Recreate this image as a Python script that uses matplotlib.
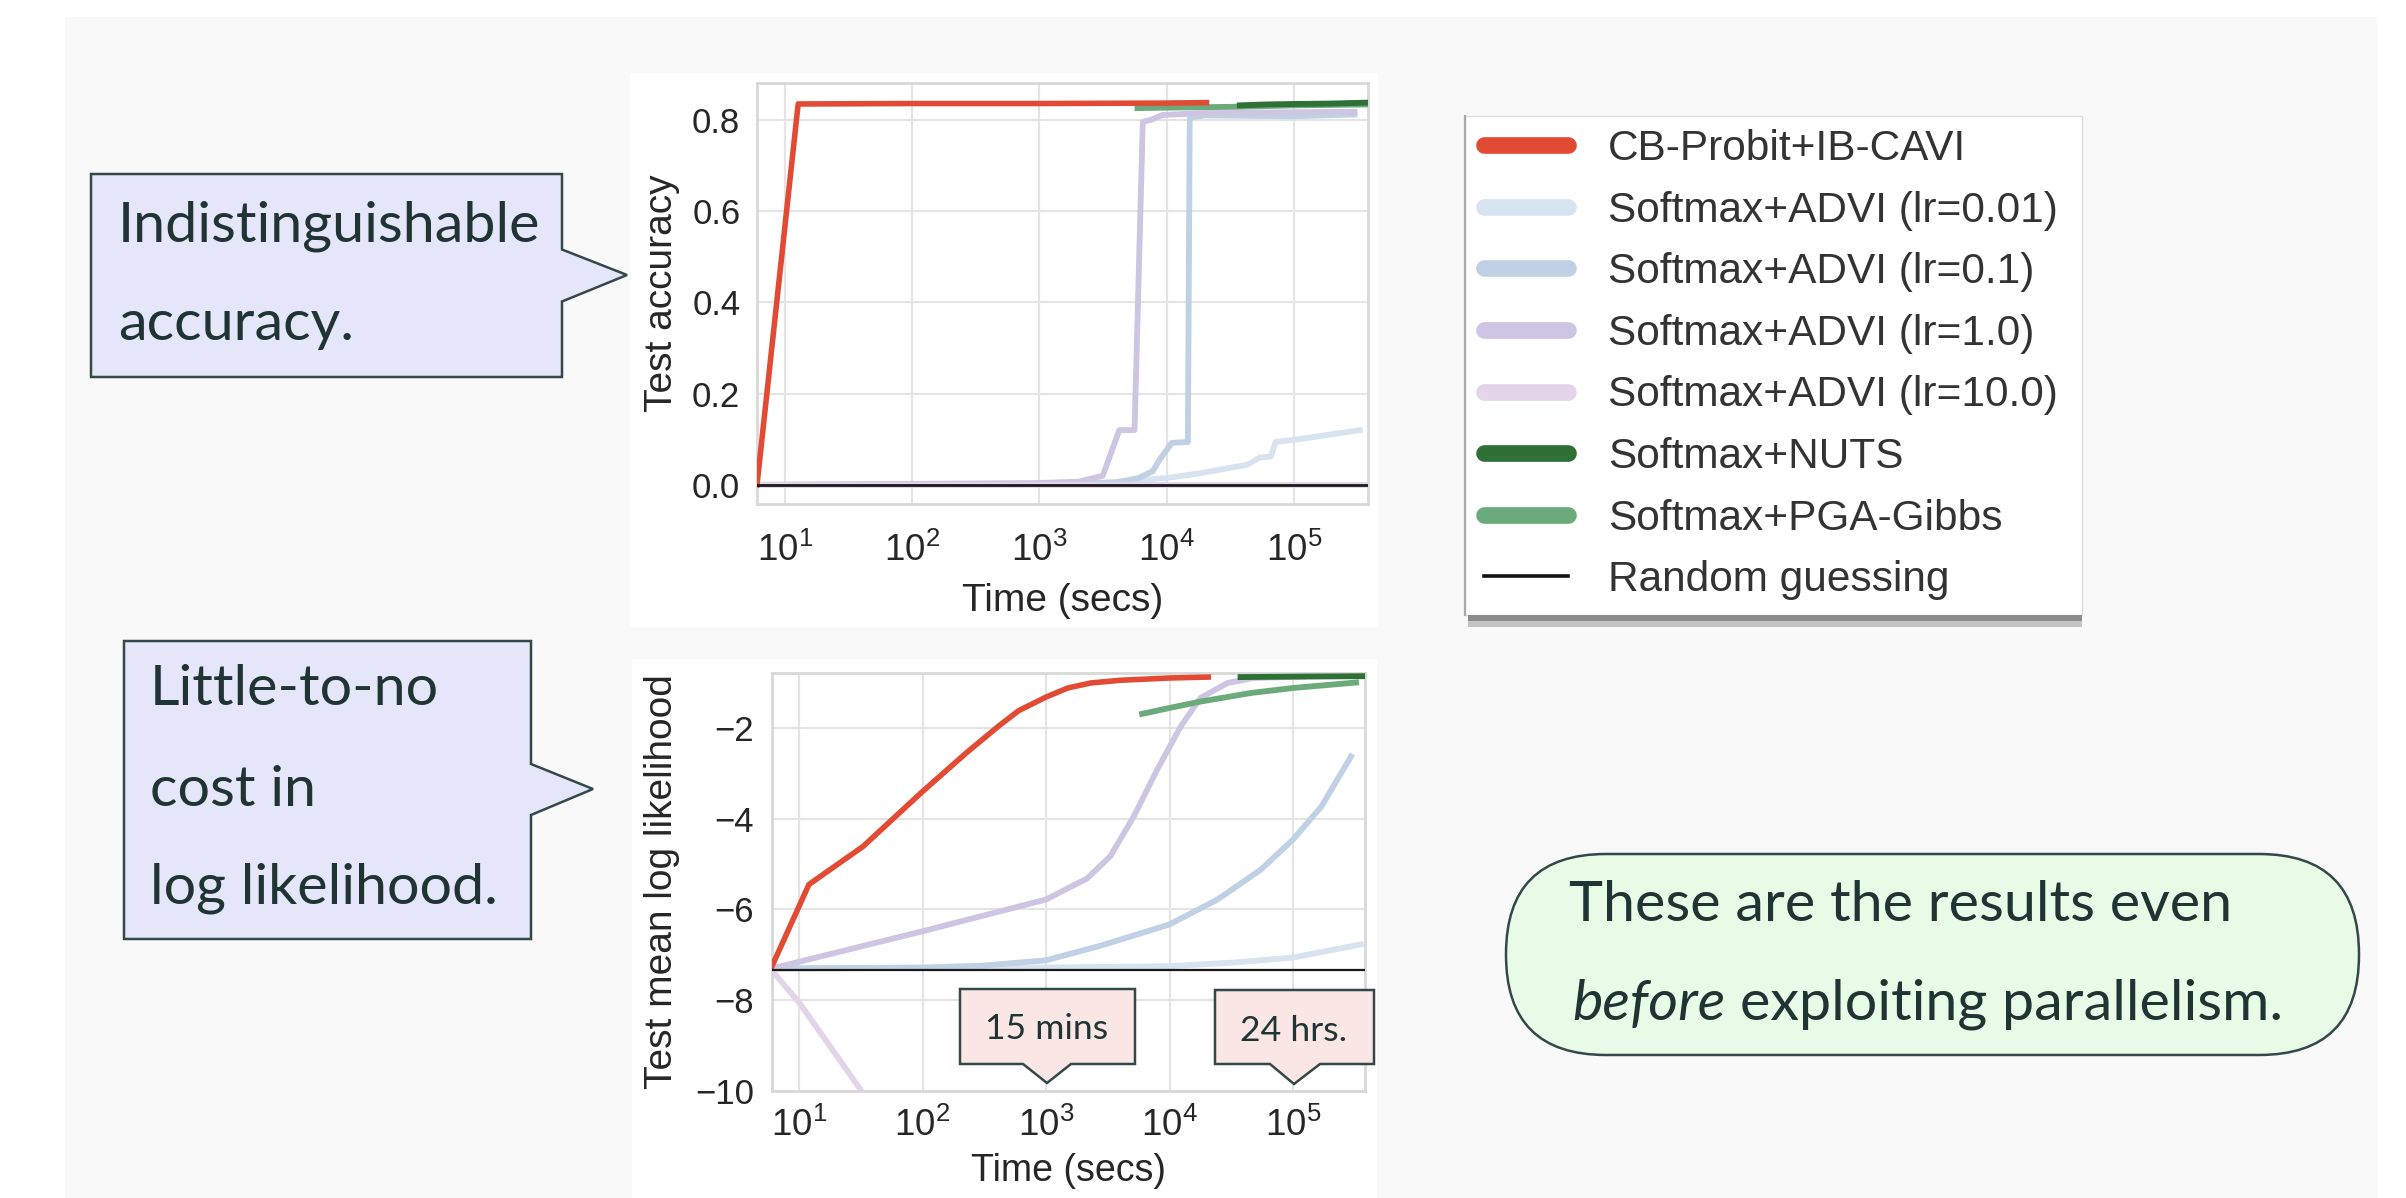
import matplotlib
matplotlib.use("Agg")
import matplotlib.pyplot as plt
from matplotlib.patches import Rectangle, Polygon, FancyBboxPatch
from matplotlib.lines import Line2D
from matplotlib.transforms import Affine2D
from matplotlib.ticker import LogLocator, NullLocator

W, H = 2406, 1198
plt.rcParams['font.family'] = ['Liberation Sans', 'DejaVu Sans']
plt.rcParams['axes.unicode_minus'] = True

# ---------------- data ----------------
series_labels = ["CB-Probit+IB-CAVI", "Softmax+ADVI (lr=0.01)", "Softmax+ADVI (lr=0.1)",
                 "Softmax+ADVI (lr=1.0)", "Softmax+ADVI (lr=10.0)", "Softmax+NUTS",
                 "Softmax+PGA-Gibbs", "Random guessing"]

# Test accuracy
acc_t_cavi = [6.03, 12.7, 100, 1000, 10000, 20600]
acc_cavi = [0.0, 0.835, 0.836, 0.836, 0.837, 0.838]
acc_t_lr001 = [6.03, 1000, 3000, 10000, 18000, 43000, 54000, 66000, 72000, 110000, 330000]
acc_lr001 = [0.0, 0.001, 0.004, 0.015, 0.025, 0.044, 0.06, 0.062, 0.094, 0.10, 0.12]
acc_t_lr01 = [6.03, 1000, 4000, 6000, 7800, 8800, 11000, 14700, 15200, 20000, 100000, 300000]
acc_lr01 = [0.0, 0.002, 0.005, 0.015, 0.03, 0.055, 0.092, 0.094, 0.805, 0.81, 0.808, 0.812]
acc_t_lr1 = [6.03, 100, 1000, 2040, 3150, 4250, 5600, 6500, 7500, 9300, 20000, 100000, 300000]
acc_lr1 = [0.0, 0.002, 0.004, 0.007, 0.02, 0.12, 0.12, 0.796, 0.80, 0.811, 0.815, 0.817, 0.818]
acc_t_lr10 = [6.03, 383000]
acc_lr10 = [0.0, 0.0]
acc_t_nuts = [37600, 60000, 100000, 200000, 383000]
acc_nuts = [0.832, 0.834, 0.835, 0.836, 0.838]
acc_t_pga = [5900, 10000, 20000, 37600, 100000, 383000]
acc_pga = [0.826, 0.827, 0.828, 0.829, 0.832, 0.834]
acc_t_rand = [6.03, 383000]
acc_rand = [0.0, 0.0]

# Test mean log likelihood
ll_t_cavi = [6.03, 12.0, 33, 100, 226, 417, 600, 1000, 1500, 2300, 4000, 10000, 20600]
ll_cavi = [-7.25, -5.45, -4.61, -3.40, -2.55, -1.95, -1.62, -1.32, -1.12, -1.01, -0.95, -0.90, -0.88]
ll_t_lr001 = [6.03, 1000, 10000, 33000, 100000, 355000]
ll_lr001 = [-7.3, -7.28, -7.25, -7.17, -7.06, -6.77]
ll_t_lr01 = [6.03, 100, 300, 1000, 2750, 10000, 24500, 55000, 100000, 170000, 295000]
ll_lr01 = [-7.3, -7.28, -7.24, -7.12, -6.80, -6.33, -5.78, -5.12, -4.46, -3.73, -2.63]
ll_t_lr1 = [6.03, 100, 1000, 2140, 3310, 5130, 7940, 12300, 17800, 29500, 47900, 120000]
ll_lr1 = [-7.3, -6.48, -5.78, -5.32, -4.83, -3.95, -2.92, -1.97, -1.34, -1.01, -0.90, -0.87]
ll_t_lr10 = [6.03, 10, 34]
ll_lr10 = [-7.35, -8.05, -10.1]
ll_t_nuts = [37600, 100000, 383000]
ll_nuts = [-0.88, -0.87, -0.86]
ll_t_pga = [6000, 10000, 17800, 45700, 100000, 324000]
ll_pga = [-1.69, -1.56, -1.42, -1.23, -1.12, -1.0]
ll_t_rand = [6.03, 383000]
ll_rand = [-7.33, -7.33]

acc_yticks = [0.0, 0.2, 0.4, 0.6, 0.8]
ll_yticks = [-10, -8, -6, -4, -2]

# ---------------- styles ----------------
C_RED = '#e24a33'
C_LR001 = '#d7e3ef'
C_LR01 = '#c0d0e5'
C_LR1 = '#cec5e2'
C_LR10 = '#e3d4e9'
C_NUTS = '#2e7036'
C_PGA = '#6aaa7b'
C_RAND = '#1a1a1a'
TXT = '#203434'
EDGE = '#34484a'

fig = plt.figure(figsize=(W / 100, H / 100), dpi=100)
fig.patch.set_facecolor('white')
T = Affine2D().scale(1 / W, -1 / H).translate(0, 1) + fig.transFigure


def rect(x0, y0, x1, y1, **kw):
    p = Rectangle((x0, y0), x1 - x0, y1 - y0, transform=T, **kw)
    fig.add_artist(p)
    return p


def poly(pts, **kw):
    p = Polygon(pts, closed=True, transform=T, **kw)
    fig.add_artist(p)
    return p


# slide background and plot image backgrounds
rect(65, 17, 2378, 1198, facecolor='#f9f9f9', edgecolor='none', zorder=-10)
rect(630, 73, 1378, 627, facecolor='white', edgecolor='none', zorder=-9)
rect(632, 659, 1377, 1198, facecolor='white', edgecolor='none', zorder=-9)


def make_ax(x0, y0, x1, y1):
    return fig.add_axes([x0 / W, 1 - y1 / H, (x1 - x0) / W, (y1 - y0) / H])


ax1 = make_ax(757, 83, 1368, 504)
ax2 = make_ax(772, 673, 1365, 1091)

for ax in (ax1, ax2):
    ax.set_facecolor('white')
    ax.set_xscale('log')
    ax.xaxis.set_major_locator(LogLocator(base=10))
    ax.xaxis.set_minor_locator(NullLocator())
    ax.set_xlim(6.03, 3.83e5)
    ax.grid(True, which='major', color='#e4e4e4', lw=1.5)
    ax.set_axisbelow(True)
    for s in ax.spines.values():
        s.set_color('#d8d8d8')
        s.set_linewidth(2.0)
    ax.tick_params(length=0, labelsize=25, colors='#262626')
    ax.tick_params(axis='x', labelsize=26.5)

lw = 4.2
ax1.plot(acc_t_lr001, acc_lr001, color=C_LR001, lw=lw, zorder=2)
ax1.plot(acc_t_lr01, acc_lr01, color=C_LR01, lw=lw, zorder=2.1)
ax1.plot(acc_t_lr1, acc_lr1, color=C_LR1, lw=lw, zorder=2.2)
ax1.plot(acc_t_lr10, acc_lr10, color=C_LR10, lw=lw, zorder=2.3)
ax1.plot(acc_t_pga, acc_pga, color=C_PGA, lw=lw, zorder=3)
ax1.plot(acc_t_nuts, acc_nuts, color=C_NUTS, lw=lw, zorder=3.2)
ax1.plot(acc_t_cavi, acc_cavi, color=C_RED, lw=4.0, zorder=4)
ax1.plot(acc_t_rand, acc_rand, color=C_RAND, lw=2.0, zorder=5)
ax1.set_ylim(-0.042, 0.881)
ax1.set_yticks(acc_yticks)
ax1.tick_params(axis='y', pad=12)
ax1.tick_params(axis='x', pad=21)
ax1.set_ylabel('Test accuracy', fontsize=28, color='#262626')
ax1.set_xlabel('Time (secs)', fontsize=28, color='#262626')
ax1.yaxis.set_label_coords((680 - 757) / (1368 - 757), 0.5)
ax1.xaxis.set_label_coords(0.5, (504 - 583) / (504 - 83))

ax2.plot(ll_t_lr001, ll_lr001, color=C_LR001, lw=lw, zorder=2)
ax2.plot(ll_t_lr01, ll_lr01, color=C_LR01, lw=lw, zorder=2.1)
ax2.plot(ll_t_lr1, ll_lr1, color=C_LR1, lw=lw, zorder=2.2)
ax2.plot(ll_t_lr10, ll_lr10, color=C_LR10, lw=lw, zorder=2.3)
ax2.plot(ll_t_nuts, ll_nuts, color=C_NUTS, lw=lw, zorder=3)
ax2.plot(ll_t_pga, ll_pga, color=C_PGA, lw=lw, zorder=3.2)
ax2.plot(ll_t_cavi, ll_cavi, color=C_RED, lw=4.0, zorder=4)
ax2.plot(ll_t_rand, ll_rand, color=C_RAND, lw=1.6, zorder=5)
ax2.set_ylim(-10, -0.79)
ax2.set_yticks(ll_yticks)
ax2.tick_params(axis='y', pad=13)
ax2.tick_params(axis='x', pad=12)
ax2.set_ylabel('Test mean log likelihood', fontsize=28, color='#262626')
ax2.set_xlabel('Time (secs)', fontsize=27, color='#262626')
ax2.yaxis.set_label_coords((680 - 772) / (1365 - 772), 0.5)
ax2.xaxis.set_label_coords(0.5, (1091 - 1153) / (1091 - 673))

# ---------------- legend ----------------
rect(1465, 116, 2082, 615, facecolor='white', edgecolor='#dedede', lw=1.0, zorder=1)
rect(1468, 615, 2082, 621, facecolor='#8c8c8c', edgecolor='none', zorder=1)
rect(1468, 621, 2082, 627, facecolor='#c4c4c4', edgecolor='none', zorder=1)
fig.add_artist(Line2D([1465, 1465], [116, 615], transform=T, color='#a9a9a9', lw=1.6, zorder=1.1))

leg_colors = [C_RED, C_LR001, C_LR01, C_LR1, C_LR10, C_NUTS, C_PGA]
handles = [Line2D([], [], color=c, lw=12, solid_capstyle='round') for c in leg_colors]
handles.append(Line2D([], [], color='#111111', lw=2.6))
leg = fig.legend(handles, series_labels, loc='upper left',
                 bbox_to_anchor=(1483.5 / W, 1 - 129 / H), bbox_transform=fig.transFigure,
                 frameon=False, fontsize=30.5, handlelength=2.0, handletextpad=0.93,
                 labelspacing=0.51, borderpad=0, borderaxespad=0)
for t in leg.get_texts():
    t.set_color('#333333')

# ---------------- callouts ----------------
renderer = fig.canvas.get_renderer()


def text_w(s, size, **kw):
    t = fig.text(0, 0, s, fontsize=size, **kw)
    w = t.get_window_extent(renderer=renderer).width
    t.remove()
    return w


SF = 'Lato'
s1 = 40 * 422 / text_w('Indistinguishable', 40, family=SF)
s2 = 40 * 663 / text_w('These are the results even', 40, family=SF)
SS = (s1 + s2) / 2
SP = 40 * 123 / text_w('15 mins', 40, family=SF)

poly([(91, 174), (562, 174), (562, 249.5), (627, 275), (562, 301.5), (562, 377), (91, 377)],
     facecolor='#e6e6fa', edgecolor=EDGE, lw=1.8, joinstyle='miter', zorder=2)
poly([(124, 641), (531, 641), (531, 764), (593, 789), (531, 815), (531, 939), (124, 939)],
     facecolor='#e6e6fa', edgecolor=EDGE, lw=1.8, joinstyle='miter', zorder=2)
poly([(960, 989), (1135, 989), (1135, 1064), (1071, 1064), (1047, 1083), (1023, 1064), (960, 1064)],
     facecolor='#fbe6e6', edgecolor=EDGE, lw=1.8, joinstyle='miter', zorder=2)
poly([(1215, 990), (1374, 990), (1374, 1064), (1320, 1064), (1294, 1084), (1270, 1064), (1215, 1064)],
     facecolor='#fbe6e6', edgecolor=EDGE, lw=1.8, joinstyle='miter', zorder=2)
gb = FancyBboxPatch((1506, 854), 2359 - 1506, 1055 - 854,
                    boxstyle='round,pad=0,rounding_size=100', transform=T,
                    facecolor='#e8fbe6', edgecolor=EDGE, lw=1.8, zorder=2)
fig.add_artist(gb)


def stext(x, y, s, size=None, **kw):
    kw.setdefault('family', SF)
    kw.setdefault('color', TXT)
    return fig.text(x, y, s, transform=T, fontsize=size or SS, va='baseline', zorder=3, **kw)


stext(118, 242, 'Indistinguishable')
stext(118, 340, 'accuracy.')
stext(150, 705, 'Little-to-no')
stext(150, 806, 'cost in')
stext(150, 904, 'log likelihood.')
stext(1569, 921, 'These are the results even')
wb = text_w('before', SS, family=SF, style='italic')
wsp = text_w('a b', SS, family=SF) - text_w('ab', SS, family=SF)
stext(1572, 1020, 'before', style='italic')
stext(1572 + wb + wsp, 1020, 'exploiting parallelism.')
stext(1047, 1039, '15 mins', size=SP, ha='center')
stext(1294, 1041, '24 hrs.', size=SP, ha='center')

fig.savefig('out.png', dpi=100, facecolor=fig.get_facecolor())
